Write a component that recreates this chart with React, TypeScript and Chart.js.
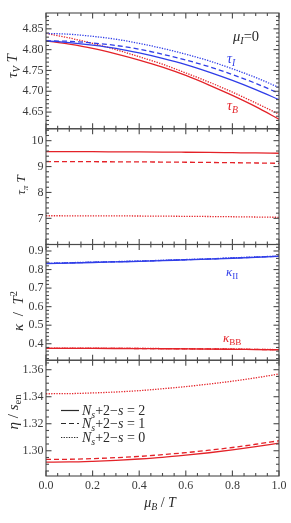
import React, { useEffect, useRef } from 'react';
import { Chart, registerables } from 'chart.js';

Chart.register(...registerables);

const FONT = '"Liberation Serif", "Times New Roman", serif';
const RED = 'rgb(228,34,40)';
const BLUE = 'rgb(48,62,232)';
const AXIS = '#4a4a4a';
const TEXT = '#2a2a2a';

// mu_B / T grid
const MU_B = [0, 0.1, 0.2, 0.3, 0.4, 0.5, 0.6, 0.7, 0.8, 0.9, 1.0];

// Panel 1: tau_V T
const TAU_B_2 = [4.821, 4.813, 4.803, 4.79, 4.775, 4.758, 4.738, 4.715, 4.69, 4.663, 4.633];
const TAU_B_0 = [4.839, 4.828, 4.815, 4.8, 4.783, 4.765, 4.744, 4.722, 4.698, 4.672, 4.645];
const TAU_I_2 = [4.821, 4.817, 4.811, 4.803, 4.792, 4.779, 4.764, 4.746, 4.726, 4.704, 4.68];
const TAU_I_1 = [4.821, 4.82, 4.816, 4.81, 4.801, 4.789, 4.775, 4.759, 4.74, 4.719, 4.695];
const TAU_I_0 = [4.839, 4.837, 4.832, 4.825, 4.815, 4.803, 4.789, 4.773, 4.754, 4.733, 4.709];

// Panel 2: tau_pi T
const TAU_PI_2 = [9.575, 9.574, 9.573, 9.569, 9.565, 9.56, 9.553, 9.545, 9.535, 9.525, 9.513];
const TAU_PI_1 = [9.19, 9.189, 9.187, 9.184, 9.18, 9.174, 9.167, 9.159, 9.149, 9.138, 9.126];
const TAU_PI_0 = [7.1, 7.099, 7.098, 7.095, 7.09, 7.085, 7.078, 7.071, 7.062, 7.051, 7.04];

// Panel 3: kappa / T^2
const KAPPA_II_2 = [0.832, 0.835, 0.838, 0.841, 0.844, 0.848, 0.852, 0.856, 0.861, 0.866, 0.871];
const KAPPA_II_1 = [0.833, 0.836, 0.839, 0.842, 0.845, 0.849, 0.853, 0.857, 0.862, 0.867, 0.872];
const KAPPA_II_0 = [0.834, 0.837, 0.84, 0.843, 0.846, 0.85, 0.854, 0.858, 0.863, 0.868, 0.873];
const KAPPA_BB_2 = [0.375, 0.3749, 0.3747, 0.3743, 0.3738, 0.3731, 0.3723, 0.3713, 0.3701, 0.3688, 0.3675];
const KAPPA_BB_1 = [0.3755, 0.3754, 0.3752, 0.3748, 0.3743, 0.3736, 0.3728, 0.3718, 0.3706, 0.3693, 0.368];
const KAPPA_BB_0 = [0.376, 0.3759, 0.3757, 0.3753, 0.3748, 0.3741, 0.3733, 0.3723, 0.3711, 0.3698, 0.3685];

// Panel 4: eta / s_en
const ETA_2 = [1.2916, 1.2917, 1.2922, 1.2929, 1.2939, 1.2951, 1.2967, 1.2985, 1.3006, 1.303, 1.3057];
const ETA_1 = [1.2936, 1.2937, 1.2942, 1.2949, 1.2958, 1.2971, 1.2986, 1.3004, 1.3024, 1.3048, 1.3074];
const ETA_0 = [1.3422, 1.3423, 1.3428, 1.3435, 1.3445, 1.3459, 1.3475, 1.3494, 1.3515, 1.354, 1.3568];

// Tick labels
const X_TICKS = [0, 0.2, 0.4, 0.6, 0.8, 1.0];
const Y1_TICKS = [4.65, 4.7, 4.75, 4.8, 4.85];
const Y2_TICKS = [7, 8, 9, 10];
const Y3_TICKS = [0.4, 0.5, 0.6, 0.7, 0.8, 0.9];
const Y4_TICKS = [1.3, 1.32, 1.34, 1.36];

const PANELS = [
  { id: 'y1', min: 4.61, max: 4.888, ticks: Y1_TICKS, minor: 0.01, dec: 2, weight: 4 },
  { id: 'y2', min: 5.99, max: 10.46, ticks: Y2_TICKS, minor: 0.2, dec: 0, weight: 3 },
  { id: 'y3', min: 0.311, max: 0.935, ticks: Y3_TICKS, minor: 0.02, dec: 1, weight: 2 },
  { id: 'y4', min: 1.2813, max: 1.367, ticks: Y4_TICKS, minor: 0.005, dec: 2, weight: 1 },
];

type Seg = { t: string; it?: boolean; sub?: boolean; sup?: boolean };

function segFont(s: Seg, size: number) {
  const sz = s.sub || s.sup ? size * 0.7 : size;
  return `${s.it ? 'italic ' : ''}${sz}px ${FONT}`;
}

function drawRich(ctx: CanvasRenderingContext2D, segs: Seg[], x: number, y: number, size: number, color: string, align: string) {
  ctx.save();
  ctx.fillStyle = color;
  ctx.textBaseline = 'alphabetic';
  ctx.textAlign = 'left';
  let w = 0;
  for (const s of segs) {
    ctx.font = segFont(s, size);
    w += ctx.measureText(s.t).width;
  }
  let cx = align === 'center' ? x - w / 2 : align === 'right' ? x - w : x;
  for (const s of segs) {
    ctx.font = segFont(s, size);
    const dy = s.sub ? size * 0.22 : s.sup ? -size * 0.4 : 0;
    ctx.fillText(s.t, cx, y + dy);
    cx += ctx.measureText(s.t).width;
  }
  ctx.restore();
}

function drawRotated(ctx: CanvasRenderingContext2D, segs: Seg[], x: number, y: number, size: number) {
  ctx.save();
  ctx.translate(x, y);
  ctx.rotate(-Math.PI / 2);
  drawRich(ctx, segs, 0, 0, size, TEXT, 'center');
  ctx.restore();
}

const framePlugin = {
  id: 'frame',
  afterDatasetsDraw(chart: any) {
    const ctx: CanvasRenderingContext2D = chart.ctx;
    const { left, right } = chart.chartArea;
    const xs = chart.scales.x;
    ctx.save();
    ctx.strokeStyle = AXIS;
    ctx.lineWidth = 1.1;
    const seg = (x1: number, y1: number, x2: number, y2: number) => {
      ctx.beginPath();
      ctx.moveTo(x1, y1);
      ctx.lineTo(x2, y2);
      ctx.stroke();
    };
    for (const p of PANELS) {
      const s = chart.scales[p.id];
      const top = s.top;
      const bottom = s.bottom;
      ctx.strokeRect(left, top, right - left, bottom - top);
      for (let i = 0; i <= 20; i++) {
        const px = xs.getPixelForValue(i * 0.05);
        const L = i % 4 === 0 ? 5.5 : 3;
        seg(px, top, px, top + L);
        seg(px, bottom, px, bottom - L);
      }
      const n0 = Math.ceil(p.min / p.minor - 1e-6);
      const n1 = Math.floor(p.max / p.minor + 1e-6);
      for (let n = n0; n <= n1; n++) {
        const v = n * p.minor;
        const major = p.ticks.some((t) => Math.abs(t - v) < p.minor * 0.01);
        const py = s.getPixelForValue(v);
        const L = major ? 5.5 : 3;
        seg(left, py, left + L, py);
        seg(right, py, right - L, py);
      }
    }
    ctx.restore();
  },
  afterDraw(chart: any) {
    const ctx: CanvasRenderingContext2D = chart.ctx;
    // axis titles
    drawRotated(ctx, [{ t: 'τ', it: true }, { t: 'V', it: true, sub: true }, { t: ' T', it: true }], 17, 66, 15);
    drawRotated(ctx, [{ t: 'τ', it: true }, { t: 'π', it: true, sub: true }, { t: ' T', it: true }], 25, 185, 13);
    drawRotated(ctx, [{ t: 'κ', it: true }, { t: '  /  ' }, { t: 'T', it: true }, { t: '2', sup: true }], 23, 311, 15);
    drawRotated(ctx, [{ t: 'η', it: true }, { t: ' / ' }, { t: 's', it: true }, { t: 'en', sub: true }], 18, 412, 15);
    drawRich(ctx, [{ t: 'μ', it: true }, { t: 'B', it: true, sub: true }, { t: ' / ' }, { t: 'T', it: true }], 160, 507, 14, TEXT, 'center');
    // labels
    drawRich(ctx, [{ t: 'μ', it: true }, { t: 'I', it: true, sub: true }, { t: '=0' }], 233, 41, 14.5, TEXT, 'left');
    drawRich(ctx, [{ t: 'τ', it: true }, { t: 'I', it: true, sub: true }], 227, 63, 14, BLUE, 'left');
    drawRich(ctx, [{ t: 'τ', it: true }, { t: 'B', it: true, sub: true }], 227, 110, 14, RED, 'left');
    drawRich(ctx, [{ t: 'κ', it: true }, { t: 'II', sub: true }], 226, 276, 13, BLUE, 'left');
    drawRich(ctx, [{ t: 'κ', it: true }, { t: 'BB', sub: true }], 223, 342, 13, RED, 'left');
    // legend
    const rows = [
      { y: 410.5, dash: [], val: '2' },
      { y: 423.5, dash: [5, 3], val: '1' },
      { y: 437.5, dash: [1.3, 1.3], val: '0' },
    ];
    for (const r of rows) {
      ctx.save();
      ctx.strokeStyle = TEXT;
      ctx.lineWidth = 1.2;
      ctx.setLineDash(r.dash);
      ctx.beginPath();
      ctx.moveTo(61, r.y);
      ctx.lineTo(79, r.y);
      ctx.stroke();
      ctx.restore();
      drawRich(ctx, [{ t: 'N', it: true }, { t: 's', it: true, sub: true }, { t: '+2−' }, { t: 's', it: true }, { t: ' = ' + r.val }], 82, r.y + 4.5, 14, TEXT, 'left');
    }
  },
};

function ds(data: number[], yAxisID: string, color: string, style: number) {
  const dash = style === 2 ? [] : style === 1 ? [5, 3] : [1.3, 1.3];
  return {
    data: data.map((y, i) => ({ x: MU_B[i], y })),
    yAxisID,
    xAxisID: 'x',
    borderColor: color,
    borderWidth: 1.3,
    borderDash: dash,
    pointRadius: 0,
    fill: false,
    tension: 0.4,
    cubicInterpolationMode: 'monotone' as const,
  };
}

function yScale(p: any) {
  return {
    type: 'linear',
    position: 'left',
    stack: 'panels',
    stackWeight: 1,
    weight: p.weight,
    min: p.min,
    max: p.max,
    afterBuildTicks: (s: any) => {
      s.ticks = p.ticks.map((v: number) => ({ value: v }));
    },
    afterFit: (s: any) => {
      s.width = 46;
    },
    grid: { display: false, drawTicks: false },
    border: { display: false },
    ticks: {
      padding: 2.5,
      autoSkip: false,
      color: '#3a3a3a',
      font: { family: FONT, size: 12 },
      callback: (v: any) => Number(v).toFixed(p.dec),
    },
  };
}

export default function App() {
  const ref = useRef<HTMLCanvasElement>(null);
  useEffect(() => {
    if (!ref.current) return;
    const datasets = [
      ds(TAU_I_0, 'y1', BLUE, 0),
      ds(TAU_I_1, 'y1', BLUE, 1),
      ds(TAU_I_2, 'y1', BLUE, 2),
      ds(TAU_B_0, 'y1', RED, 0),
      ds(TAU_B_2, 'y1', RED, 2),
      ds(TAU_PI_2, 'y2', RED, 2),
      ds(TAU_PI_1, 'y2', RED, 1),
      ds(TAU_PI_0, 'y2', RED, 0),
      ds(KAPPA_II_2, 'y3', BLUE, 2),
      ds(KAPPA_II_1, 'y3', BLUE, 1),
      ds(KAPPA_II_0, 'y3', BLUE, 0),
      ds(KAPPA_BB_2, 'y3', RED, 2),
      ds(KAPPA_BB_1, 'y3', RED, 1),
      ds(KAPPA_BB_0, 'y3', RED, 0),
      ds(ETA_2, 'y4', RED, 2),
      ds(ETA_1, 'y4', RED, 1),
      ds(ETA_0, 'y4', RED, 0),
    ];
    const chart = new Chart(ref.current, {
      type: 'line',
      data: { datasets } as any,
      options: {
        animation: false,
        responsive: false,
        layout: { padding: { left: 0, right: 12, top: 13, bottom: 0 } },
        plugins: { legend: { display: false }, tooltip: { enabled: false } },
        scales: {
          x: {
            type: 'linear',
            position: 'bottom',
            min: 0,
            max: 1,
            afterBuildTicks: (s: any) => {
              s.ticks = X_TICKS.map((v) => ({ value: v }));
            },
            afterFit: (s: any) => {
              s.height = 47;
            },
            grid: { display: false, drawTicks: false },
            border: { display: false },
            ticks: {
              padding: 3,
              maxRotation: 0,
              autoSkip: false,
              color: '#3a3a3a',
              font: { family: FONT, size: 12 },
              callback: (v: any) => Number(v).toFixed(1),
            },
          },
          y4: yScale(PANELS[3]),
          y3: yScale(PANELS[2]),
          y2: yScale(PANELS[1]),
          y1: yScale(PANELS[0]),
        } as any,
      },
      plugins: [framePlugin],
    });
    return () => chart.destroy();
  }, []);
  return (
    <div style={{ position: 'absolute', left: 0, top: 0, width: 291, height: 523, background: '#fff' }}>
      <canvas ref={ref} width={291} height={523} style={{ display: 'block', width: 291, height: 523 }} />
    </div>
  );
}
